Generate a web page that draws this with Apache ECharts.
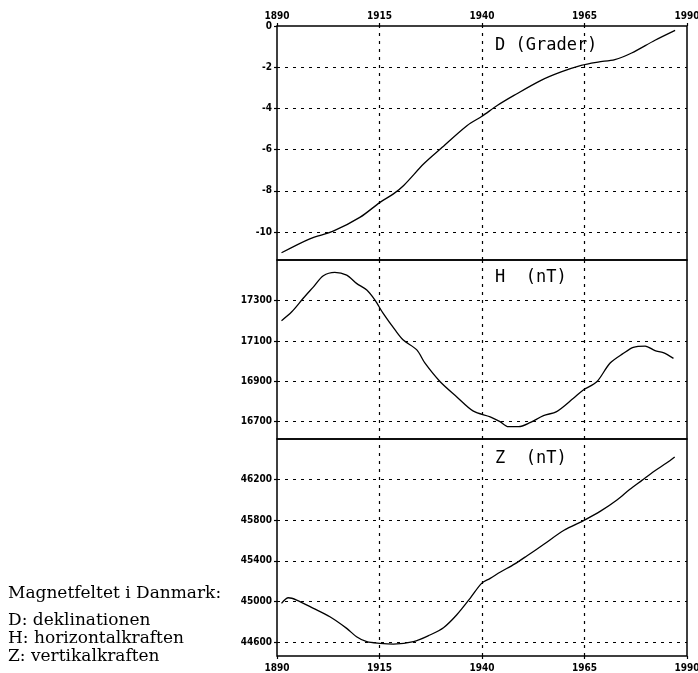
<!DOCTYPE html>
<html>
<head>
<meta charset="utf-8">
<script src="https://cdn.jsdelivr.net/npm/echarts@6/dist/echarts.min.js"></script>
<style>
  html, body { margin: 0; padding: 0; background: #fff; }
  #chart { width: 698px; height: 673px; }
</style>
</head>
<body>
<div id="chart"></div>
<script>
// tick labels
const xTicks = [1890, 1915, 1940, 1965, 1990]
const dTicks = [0, -2, -4, -6, -8, -10]
const hTicks = [17300, 17100, 16900, 16700]
const zTicks = [46200, 45800, 45400, 45000, 44600]

// D (Grader)
const dYears = [1891.1, 1898, 1903.7, 1910.3, 1915.2, 1918.4, 1920.9, 1925.8, 1929.9, 1936.4, 1940, 1943.8, 1947.8, 1954.4, 1959.3, 1964.2, 1968.3, 1972.4, 1976.5, 1982.2, 1987.1]
const dValues = [-11.01, -10.33, -9.96, -9.28, -8.55, -8.15, -7.74, -6.69, -5.96, -4.83, -4.38, -3.85, -3.37, -2.64, -2.23, -1.91, -1.75, -1.63, -1.31, -0.69, -0.21]

// H (nT)
const hYears = [1891.1, 1893.6, 1896.4, 1898.9, 1901.3, 1904.1, 1907.0, 1909.4, 1911.9, 1913.9, 1915.9, 1918.8, 1920.8, 1924.1, 1926.1, 1929.8, 1933.8, 1937.9, 1942.0, 1944.4, 1946.4, 1948.9, 1951.7, 1955.0, 1958.2, 1962.3, 1964.7, 1968.0, 1971.2, 1974.5, 1976.9, 1979.8, 1982.2, 1984.2, 1986.7]
const hValues = [17201, 17245, 17312, 17369, 17424, 17441, 17427, 17386, 17353, 17303, 17237, 17155, 17105, 17056, 16990, 16898, 16824, 16752, 16724, 16700, 16675, 16675, 16695, 16730, 16750, 16816, 16857, 16898, 16990, 17039, 17069, 17075, 17052, 17042, 17014]

// Z (nT)
const zYears = [1891.1, 1892.8, 1894.8, 1898.9, 1902.9, 1907.0, 1909.4, 1911.9, 1915.1, 1918.4, 1923.3, 1927.3, 1930.6, 1933.8, 1937.1, 1939.9, 1942.0, 1944.5, 1948, 1951, 1955, 1960, 1965, 1969, 1973, 1976, 1979, 1982, 1985, 1987]
const zValues = [44983, 45038, 45015, 44934, 44851, 44737, 44655, 44606, 44590, 44583, 44606, 44672, 44743, 44868, 45032, 45179, 45228, 45290, 45370, 45450, 45560, 45700, 45800, 45890, 46000, 46100, 46190, 46280, 46360, 46420]

const panels = [
  { years: dYears, values: dValues, ticks: dTicks, min: -11.36, max: 0, top: 26, height: 234, xLabels: 'top' },
  { years: hYears, values: hValues, ticks: hTicks, min: 16614, max: 17502, top: 260, height: 179, xLabels: null },
  { years: zYears, values: zValues, ticks: zTicks, min: 44466, max: 46596, top: 439, height: 217, xLabels: 'bottom' },
]

const labelFont = "'DejaVu Sans Condensed', 'Liberation Sans Narrow', sans-serif"
const dash = [3, 5]

const chart = echarts.init(document.getElementById('chart'))

const grid = panels.map(p => ({
  left: 277,
  width: 410,
  top: p.top,
  height: p.height,
  containLabel: false,
  outerBoundsMode: 'none',
  show: true,
  borderColor: '#000',
  borderWidth: 1.5,
  backgroundColor: 'transparent',
}))

const xAxis = panels.map((p, i) => ({
  type: 'value',
  gridIndex: i,
  min: 1890,
  max: 1990,
  position: p.xLabels || 'bottom',
  axisLine: { show: false },
  splitLine: { show: false },
  axisTick: {
    show: !!p.xLabels,
    customValues: xTicks,
    length: 3,
    lineStyle: { color: '#000', width: 1.2 },
  },
  axisLabel: {
    show: !!p.xLabels,
    customValues: xTicks,
    color: '#000',
    fontSize: 10,
    fontWeight: 'bold',
    fontFamily: labelFont,
    margin: p.xLabels === 'bottom' ? 7 : 5,
    hideOverlap: false,
    formatter: v => String(v),
  },
}))

const yAxis = panels.map((p, i) => ({
  type: 'value',
  gridIndex: i,
  min: p.min,
  max: p.max,
  axisLine: { show: false },
  splitLine: { show: false },
  axisTick: {
    show: true,
    customValues: p.ticks,
    length: 3,
    lineStyle: { color: '#000', width: 1.2 },
  },
  axisLabel: {
    customValues: p.ticks,
    color: '#000',
    fontSize: 10,
    fontWeight: 'bold',
    fontFamily: labelFont,
    margin: 5,
    formatter: v => String(v),
  },
}))

const series = panels.map((p, i) => {
  const gridLines = []
  xTicks.filter(v => v > 1890 && v < 1990).forEach(v => gridLines.push({ xAxis: v }))
  p.ticks.filter(v => v > p.min && v < p.max).forEach(v => gridLines.push({ yAxis: v }))
  return {
    type: 'line',
    xAxisIndex: i,
    yAxisIndex: i,
    data: p.years.map((y, k) => [y, p.values[k]]),
    smooth: 0.3,
    showSymbol: false,
    animation: false,
    lineStyle: { color: '#000', width: 1.3 },
    markLine: {
      silent: true,
      animation: false,
      symbol: 'none',
      label: { show: false },
      lineStyle: { color: '#000', width: 1.2, type: dash },
      data: gridLines,
    },
  }
})

const titleFont = "'DejaVu Sans Mono', monospace"
const serifFont = "'DejaVu Serif', 'Liberation Serif', serif"

const graphic = [
  { type: 'text', left: 495, top: 37, style: { text: 'D (Grader)', font: '17px ' + titleFont, fill: '#000' } },
  { type: 'text', left: 495, top: 269, style: { text: 'H  (nT)', font: '17px ' + titleFont, fill: '#000' } },
  { type: 'text', left: 495, top: 450, style: { text: 'Z  (nT)', font: '17px ' + titleFont, fill: '#000' } },
  { type: 'text', left: 8, top: 585, style: { text: 'Magnetfeltet i Danmark:', font: '17px ' + serifFont, fill: '#000' } },
  { type: 'text', left: 8, top: 612, style: { text: 'D: deklinationen', font: '17px ' + serifFont, fill: '#000' } },
  { type: 'text', left: 8, top: 630, style: { text: 'H: horizontalkraften', font: '17px ' + serifFont, fill: '#000' } },
  { type: 'text', left: 8, top: 648, style: { text: 'Z: vertikalkraften', font: '17px ' + serifFont, fill: '#000' } },
]

chart.setOption({
  animation: false,
  backgroundColor: '#fff',
  grid,
  xAxis,
  yAxis,
  series,
  graphic,
})
</script>
</body>
</html>
